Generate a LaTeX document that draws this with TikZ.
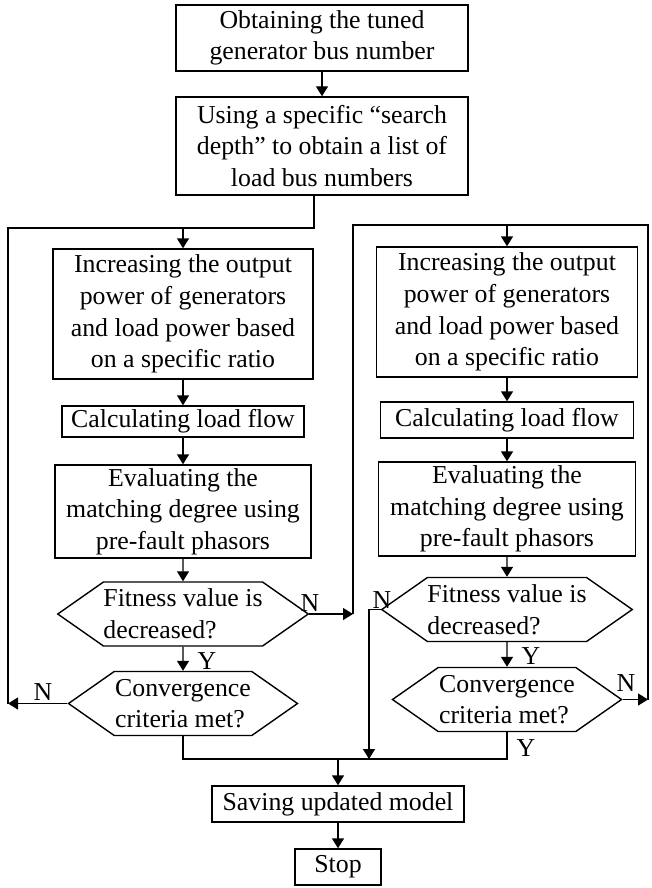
\documentclass[tikz,border=0pt]{standalone}
\usepackage{fontspec}
\setmainfont{Liberation Serif}
\usetikzlibrary{arrows.meta}
\usetikzlibrary{shapes.symbols}

\begin{document}
\begin{tikzpicture}[x=0.5pt, y=-0.5pt, line width=0.7pt,
    font=\fontsize{12.9}{15.8}\selectfont,
    box/.style={draw, align=center, inner sep=0pt},
    test/.style={draw, shape=signal, signal to=west and east,
      signal pointer angle=70, align=left, inner sep=0pt,
      minimum width=114.5pt, minimum height=32pt},
    arr/.style={-{Triangle[length=5pt, width=6pt]}}]
  \useasboundingbox (0,0) rectangle (652,888);

  \node[box, minimum width=146pt, minimum height=33pt] (obtain) at (322,38) {Obtaining the tuned\\generator bus number};
  \node[box, minimum width=146pt, minimum height=49pt] (search) at (322,146) {Using a specific “search\\depth” to obtain a list of\\load bus numbers};

  % left search
  \node[box, minimum width=130pt, minimum height=65pt] (incL) at (183,314) {Increasing the output\\power of generators\\and load power based\\on a specific ratio};
  \node[box, minimum width=121pt, minimum height=15.5pt] (calcL) at (183,421.5) {Calculating load flow};
  \node[box, minimum width=128pt, minimum height=46.5pt] (evalL) at (183,511.5) {Evaluating the\\matching degree using\\pre-fault phasors};
  \node[test] (fitL) at (183,614) {Fitness value is\\decreased?};
  \node[test] (convL) at (183,703.5) {Convergence\\criteria met?};

  % right search
  \node[box, minimum width=130.5pt, minimum height=65pt] (incR) at (507,312) {Increasing the output\\power of generators\\and load power based\\on a specific ratio};
  \node[box, minimum width=126.5pt, minimum height=18pt] (calcR) at (507,420) {Calculating load flow};
  \node[box, minimum width=128.5pt, minimum height=47pt] (evalR) at (507,509) {Evaluating the\\matching degree using\\pre-fault phasors};
  \node[test] (fitR) at (507,609.5) {Fitness value is\\decreased?};
  \node[test] (convR) at (507,699.5) {Convergence\\criteria met?};

  \node[box, minimum width=126pt, minimum height=18pt] (save) at (338,804) {Saving updated model};
  \node[box, minimum width=43pt, minimum height=18pt] (stop) at (338,867) {Stop};

  \coordinate (topL) at (8,228);
  \coordinate (topR) at (353,225);
  \coordinate (topRR) at (648,225);
  \coordinate (mergeY) at (0,759);
  \coordinate (dropR) at (369,759);

  \draw[arr] (obtain) -- (search);
  \draw ([xshift=-4pt]search.south) |- (topL) -- (topL |- convL.west);
  \draw[arr] (incL.north |- topL) -- (incL);
  \draw[arr] (incL) -- (calcL);
  \draw[arr] (calcL) -- (evalL);
  \draw[arr] (evalL) -- (fitL);
  \draw[arr] (fitL) -- (convL);
  \draw[arr] (convL.west) -- (topL |- convL.west);
  \draw[arr] (fitL.east) -- (topR |- fitL.east);

  \draw (topR |- fitL.east) -- (topR) -- (topRR) -- (topRR |- convR.east);
  \draw[arr] (incR.north |- topR) -- (incR);
  \draw[arr] (incR) -- (calcR);
  \draw[arr] (calcR) -- (evalR);
  \draw[arr] (evalR) -- (fitR);
  \draw[arr] (fitR) -- (convR);
  \draw[arr] (convR.east) -- (topRR |- convR.east);
  \draw[arr] (fitR.west) -| (dropR);

  \draw (convL.south) |- (convR.south |- mergeY) -- (convR.south);
  \draw[arr] (save.north |- mergeY) -- (save);
  \draw[arr] (save) -- (stop);

  \node (nFitL) at (310,603) {N};
  \node (yFitL) at (207,661) {Y};
  \node (nConvL) at (43,692) {N};
  \node (nFitR) at (382,600) {N};
  \node (yFitR) at (531,656) {Y};
  \node (nConvR) at (626,683) {N};
  \node (yConvR) at (526,748) {Y};
\end{tikzpicture}
\end{document}
